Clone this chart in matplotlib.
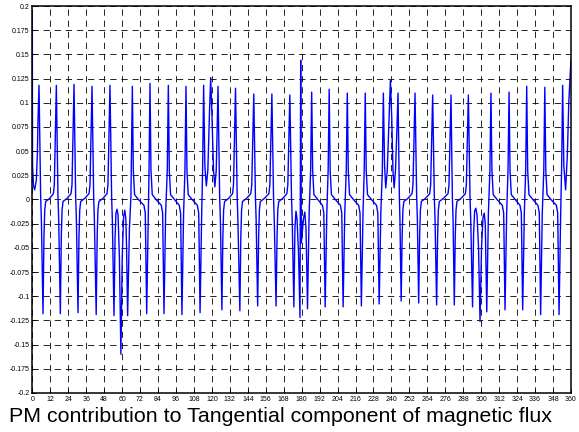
import matplotlib
matplotlib.use("Agg")
from matplotlib import pyplot as plt

# rotor angle (deg) and tangential flux density
angle = [
    0.0, 0.15, 0.8, 1.6, 2.7, 3.4, 3.8,
    4.48, 5.58, 6.08, 7.15, 7.80, 8.30, 8.95, 11.55, 14.06, 14.71,
    16.06, 17.16, 17.66, 18.73, 19.38, 19.88, 20.53, 23.13, 25.87, 26.52,
    27.87, 28.97, 29.47, 30.54, 31.19, 31.69, 32.34, 34.94, 37.90, 38.55,
    39.90, 41.00, 41.50, 42.70, 43.35, 43.85, 44.50, 47.10, 49.90, 50.55,
    51.90, 53.00, 53.50, 54.60,
    55.3, 55.9, 56.6, 57.3, 58.2, 59.2, 60.1, 61.0, 61.8, 62.5, 63.0, 63.7,
    64.9, 65.9, 66.85, 67.5, 68.35, 70.9, 74.6, 75.5, 76.43,
    77.55, 78.0, 78.66, 79.3, 80.15, 82.7, 86.2, 87.1, 88.0,
    89.1, 90.2, 90.9, 91.55, 92.4, 95.0, 98.2, 99.1, 100.0,
    101.1, 102.0, 102.7, 103.35, 104.2, 106.8, 110.3, 111.2, 112.1,
    113.2, 113.8, 114.5,
    115.3, 116.3, 117.3, 118.4, 119.2, 120.0, 121.1, 122.0, 122.9, 123.5,
    124.1, 125.2, 125.7, 126.7, 127.35, 127.85, 128.5, 131.1, 133.8, 134.45,
    135.8, 136.9, 137.4, 138.7, 139.35, 139.85, 140.5, 143.1, 146.0, 146.65,
    148.0, 149.1, 149.6, 150.6, 151.25, 151.75, 152.4, 155.0, 158.1, 158.75,
    160.1, 161.2, 161.7, 162.9, 163.55, 164.05, 164.7, 167.3, 170.1, 170.75,
    172.1, 173.2, 173.7, 174.8,
    175.5, 176.2, 176.9, 177.9, 178.9, 179.35, 179.8, 181.2, 182.1, 182.9, 183.3, 183.9,
    185.0, 186.0, 186.7, 187.35, 188.2, 190.8, 193.9, 194.8, 195.7,
    196.8, 197.7, 198.4, 199.05, 199.9, 202.5, 205.9, 206.8, 207.7,
    208.8, 209.8, 210.5, 211.15, 212.0, 214.6, 218.1, 219.0, 219.9,
    221.0, 221.8, 222.5, 223.15, 224.0, 226.6, 230.0, 230.9, 231.8,
    232.9, 233.9, 234.6,
    235.4, 236.2, 237.2, 238.4, 239.3, 240.2, 241.0, 241.8, 242.7, 243.6,
    244.4, 245.3, 245.7, 246.5, 247.15, 247.65, 248.3, 250.9, 253.75, 254.4,
    255.75, 256.85, 257.35, 258.2, 258.85, 259.35, 260.0, 262.6, 265.55, 266.2,
    267.55, 268.65, 269.15, 270.2, 270.85, 271.35, 272.0, 274.6, 277.8, 278.45,
    279.8, 280.7, 281.2, 282.0, 282.65, 283.15, 283.8, 286.4, 289.4, 290.05,
    291.4, 292.5, 293.0, 294.2,
    294.9, 295.6, 296.4, 297.2, 298.2, 299.2, 300.2, 301.2, 302.0, 302.7, 303.1, 303.7,
    304.8, 305.8, 306.5, 307.15, 308.0, 310.6, 314.1, 315.0, 315.9,
    317.0, 317.9, 318.6, 319.25, 320.1, 322.7, 325.9, 326.8, 327.7,
    328.8, 329.7, 330.4, 331.05, 331.9, 334.5, 337.9, 338.8, 339.7,
    340.8, 341.8, 342.5, 343.15, 344.0, 346.6, 350.2, 351.1, 352.0,
    353.1, 353.7, 354.4,
    355.2, 356.4, 357.6, 358.5, 360.0,
]
flux = [
    0.190, 0.035, 0.014, 0.010, 0.020, 0.048, 0.082,
    0.118, 0.003, -0.022, -0.118, -0.038, -0.011, -0.002, 0.001, 0.006, 0.015,
    0.118, 0.003, -0.022, -0.118, -0.038, -0.011, -0.002, 0.001, 0.006, 0.015,
    0.119, 0.003, -0.022, -0.117, -0.038, -0.011, -0.002, 0.001, 0.006, 0.015,
    0.117, 0.003, -0.022, -0.119, -0.038, -0.011, -0.002, 0.001, 0.006, 0.015,
    0.118, 0.003, -0.022, -0.120,
    -0.040, -0.014, -0.010, -0.016, -0.060, -0.160, -0.060, -0.018, -0.011, -0.020, -0.050, -0.120,
    -0.030, 0.003, 0.117, 0.030, 0.005, 0.000, -0.006, -0.014, -0.118,
    -0.014, 0.030, 0.120, 0.030, 0.005, 0.000, -0.006, -0.014, -0.118,
    -0.014, 0.030, 0.118, 0.030, 0.005, 0.000, -0.006, -0.014, -0.119,
    -0.014, 0.030, 0.117, 0.030, 0.005, 0.000, -0.006, -0.014, -0.117,
    -0.014, 0.030, 0.118,
    0.035, 0.014, 0.030, 0.090, 0.126, 0.090, 0.030, 0.013, 0.030, 0.070,
    0.117, 0.003, -0.022, -0.114, -0.038, -0.011, -0.002, 0.001, 0.006, 0.015,
    0.115, 0.003, -0.022, -0.115, -0.038, -0.011, -0.002, 0.001, 0.006, 0.015,
    0.109, 0.003, -0.022, -0.110, -0.038, -0.011, -0.002, 0.001, 0.006, 0.015,
    0.109, 0.003, -0.022, -0.110, -0.038, -0.011, -0.002, 0.001, 0.006, 0.015,
    0.108, 0.003, -0.022, -0.111,
    -0.030, -0.012, -0.020, -0.055, -0.122, 0.144, -0.045, -0.020, -0.013, -0.030, -0.060, -0.113,
    -0.014, 0.030, 0.111, 0.030, 0.005, 0.000, -0.006, -0.014, -0.111,
    -0.014, 0.030, 0.114, 0.030, 0.005, 0.000, -0.006, -0.014, -0.111,
    -0.014, 0.030, 0.110, 0.030, 0.005, 0.000, -0.006, -0.014, -0.110,
    -0.014, 0.030, 0.110, 0.030, 0.005, 0.000, -0.006, -0.014, -0.108,
    -0.014, 0.030, 0.110,
    0.035, 0.012, 0.030, 0.085, 0.123, 0.085, 0.030, 0.012, 0.030, 0.070,
    0.110, 0.003, -0.022, -0.105, -0.038, -0.011, -0.002, 0.001, 0.006, 0.015,
    0.110, 0.003, -0.022, -0.107, -0.038, -0.011, -0.002, 0.001, 0.006, 0.015,
    0.108, 0.003, -0.022, -0.109, -0.038, -0.011, -0.002, 0.001, 0.006, 0.015,
    0.108, 0.003, -0.022, -0.109, -0.038, -0.011, -0.002, 0.001, 0.006, 0.015,
    0.108, 0.003, -0.022, -0.111,
    -0.035, -0.012, -0.009, -0.016, -0.050, -0.126, -0.050, -0.018, -0.014, -0.025, -0.060, -0.116,
    -0.014, 0.030, 0.110, 0.030, 0.005, 0.000, -0.006, -0.014, -0.114,
    -0.014, 0.030, 0.111, 0.030, 0.005, 0.000, -0.006, -0.014, -0.114,
    -0.014, 0.030, 0.117, 0.030, 0.005, 0.000, -0.006, -0.014, -0.119,
    -0.014, 0.030, 0.116, 0.030, 0.005, 0.000, -0.006, -0.014, -0.119,
    -0.014, 0.030, 0.118,
    0.035, 0.010, 0.048, 0.100, 0.145,
]

x_ticks = list(range(0, 361, 12))
y_ticks = [-0.2, -0.175, -0.15, -0.125, -0.1, -0.075, -0.05, -0.025, 0,
           0.025, 0.05, 0.075, 0.1, 0.125, 0.15, 0.175, 0.2]
y_labels = ["-0.2", "-0.175", "-0.15", "-0.125", "-0.1", "-0.075", "-0.05", "-0.025", "0",
            "0.025", "0.05", "0.075", "0.1", "0.125", "0.15", "0.175", "0.2"]
caption = "PM contribution to Tangential component of magnetic flux"

plt.rcParams["font.family"] = ["Liberation Sans", "DejaVu Sans"]
plt.rcParams["lines.scale_dashes"] = False

fig = plt.figure(figsize=(5.79, 4.32), dpi=100)
ax = fig.add_axes([0.0558, 0.0903, 0.9304, 0.8958])

ax.plot(angle, flux, color="#0000ff", linewidth=1.0)

ax.set_xlim(0, 360)
ax.set_ylim(-0.2, 0.2)
ax.set_xticks(x_ticks)
ax.set_xticklabels([str(t) for t in x_ticks])
ax.set_yticks(y_ticks)
ax.set_yticklabels(y_labels)
ax.tick_params(direction="in", length=3, width=0.6, labelsize=5, pad=2, colors="black")
ax.grid(True, color="black", linewidth=0.6, linestyle=(0, (4.5, 3.5)))
for s in ax.spines.values():
    s.set_linewidth(1.1)

fig.text(9.3 / 579, (432 - 421.7) / 432, caption, fontsize=15.4, ha="left", va="baseline")

fig.savefig("out.png", dpi=100)
